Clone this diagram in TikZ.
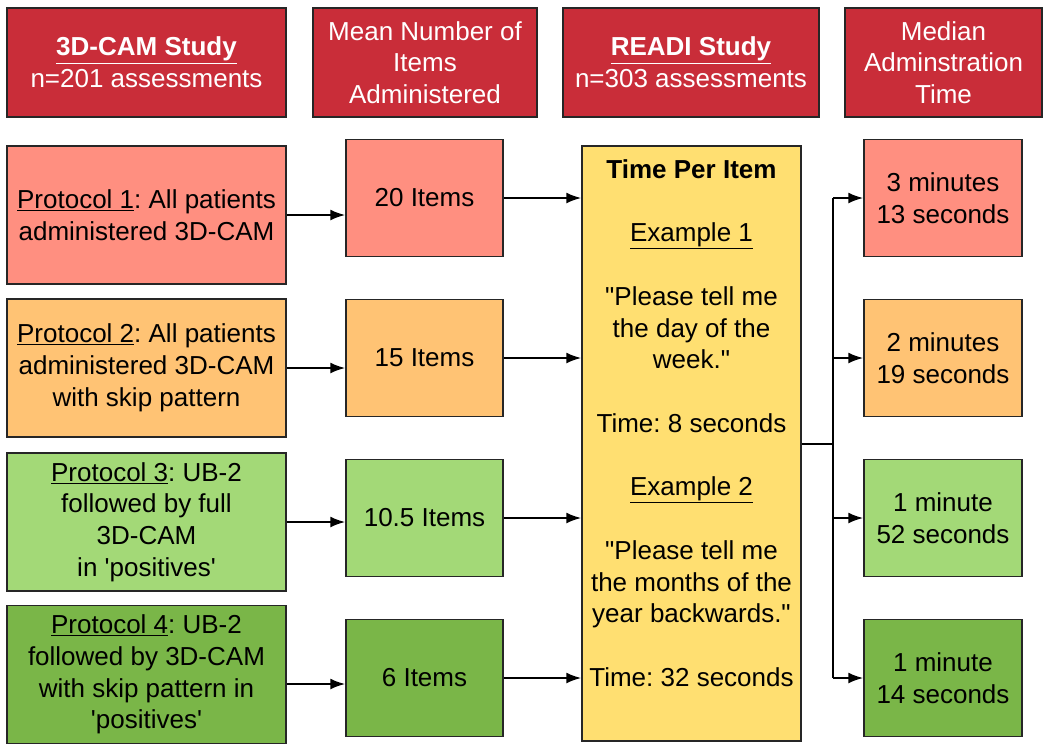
\documentclass[tikz,border=0pt]{standalone}
\usepackage{fontspec}
\setmainfont{Liberation Sans}[Ligatures=TeXOff]
\usepackage{tikz}
\usetikzlibrary{arrows.meta}
\usetikzlibrary{positioning}

\definecolor{headred}{HTML}{C92D39}
\definecolor{salmon}{HTML}{FF8F80}
\definecolor{orange}{HTML}{FFC374}
\definecolor{lightgreen}{HTML}{A3D977}
\definecolor{darkgreen}{HTML}{7AB648}
\definecolor{yellow}{HTML}{FFDF71}

\tikzset{
  base/.style={draw=black!85,line width=1.5pt,align=center,inner sep=0pt,font=\fontsize{26}{31.75}\selectfont},
  head/.style={base,fill=headred,text=white,minimum height=109},
  proto/.style={base,minimum width=279,minimum height=138},
  items/.style={base,minimum width=157,minimum height=117},
  median/.style={base,minimum width=158,minimum height=117},
  link/.style={line width=2pt,-{Latex[length=15pt,width=11pt]}}
}

\begin{document}
\frenchspacing
\begin{tikzpicture}[x=1pt,y=-1pt]
        \useasboundingbox (0,0) rectangle (1050,750);

        \node[head,minimum width=279] (h1) at (146.5,62.5) {\textbf{\underline{3D-CAM Study}}\\n=201 assessments};
        \node[head,minimum width=224] (h2) at (425,62.5) {Mean Number of\\Items\\Administered};
        \node[head,minimum width=256] (h3) at (691,62.5) {\textbf{\underline{READI Study}}\\n=303 assessments};
        \node[head,minimum width=197] (h4) at (943.5,62.5) {Median\\Adminstration\\Time};

        \node[proto,fill=salmon] (p1) at (146.5,215) {\underline{Protocol 1}: All patients\\administered 3D-CAM};
        \node[proto,fill=orange] (p2) at (146.5,368) {\underline{Protocol 2}: All patients\\administered 3D-CAM\\with skip pattern};
        \node[proto,fill=lightgreen] (p3) at (146.5,522) {\underline{Protocol 3}: UB-2\\followed by full\\3D-CAM\\in 'positives'};
        \node[proto,fill=darkgreen] (p4) at (146.5,674.5) {\underline{Protocol 4}: UB-2\\followed by 3D-CAM\\with skip pattern in\\'positives'};

        \foreach \n/\y/\c/\t in {1/198/salmon/20 Items,2/358/orange/15 Items,3/518/lightgreen/10.5 Items,4/678/darkgreen/6 Items}
          \node[items,fill=\c] (i\n) at (424.5,\y) {\t};

        \node[base,fill=yellow,minimum width=219,minimum height=595] (tpi) at (691.5,443.5) {};
        \node[anchor=north,align=center,inner sep=0pt,font=\fontsize{26}{31.75}\selectfont] (tpitext) at ([yshift=-14pt]tpi.north)
          {\textbf{Time Per Item}\\[31.75pt]\underline{Example 1}\\[31.75pt]"Please tell me\\the day of the\\week."\\[31.75pt]Time: 8 seconds\\[31.75pt]\underline{Example 2}\\[31.75pt]"Please tell me\\the months of the\\year backwards."\\[31.75pt]Time: 32 seconds};

        \foreach \n/\y/\c/\t in {1/198/salmon/{3 minutes\\13 seconds},2/358/orange/{2 minutes\\19 seconds},3/518/lightgreen/{1 minute\\52 seconds},4/678/darkgreen/{1 minute\\14 seconds}}
          \node[median,fill=\c] (m\n) at (943,\y) {\t};

        \coordinate (split) at (833,444);

        \foreach \n in {1,2,3}
          \draw[link] (p\n.east) -- (p\n.east -| i\n.west);
        \draw[link] ([yshift=-9.5pt]p4.east) -- ([yshift=-9.5pt]p4.east -| i4.west);
        \foreach \n in {1,...,4}
          \draw[link] (i\n.east) -- (i\n.east -| tpi.west);
        \draw[line width=2pt] (tpi.east |- split) -- (split);
        \draw[line width=2pt] (split |- m1.west) -- (split |- m4.west);
        \foreach \n in {1,...,4}
          \draw[link] (split |- m\n.west) -- (m\n.west);
      \end{tikzpicture}
\end{document}
